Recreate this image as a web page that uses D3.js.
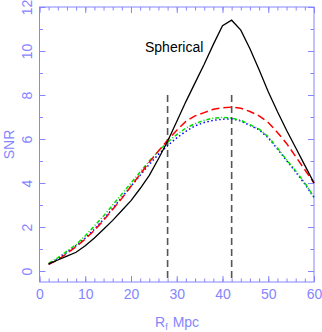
<!DOCTYPE html>
<html>
<head>
<meta charset="utf-8">
<script src="https://cdn.jsdelivr.net/npm/d3@7"></script>
<style>
  body { margin: 0; background: #fff; }
  svg text { font-family: "Liberation Sans", Arial, sans-serif; }
</style>
</head>
<body>
<div id="chart"></div>
<script>
const W = 322, H = 332;
const MARGIN = {top: 7, right: 8, bottom: 50, left: 39.5};
const AXIS_COLOR = '#8585ff';

// smoothing radius R_f in Mpc
const rf = [2, 4, 6, 8, 10, 12, 14, 16, 18, 20, 22, 24, 26, 28, 30,
            32, 34, 36, 38, 40, 42, 44, 46, 48, 50, 52, 54, 56, 58, 60];

const snrSpherical = [0.32, 0.5, 0.68, 0.85, 1.15, 1.5, 1.9, 2.3, 2.75, 3.2, 3.75, 4.35, 5.1, 5.9, 6.8,
                      7.7, 8.55, 9.4, 10.3, 11.15, 11.4, 10.95, 10.1, 9.15, 8.15, 7.25, 6.4, 5.6, 4.8, 4.0];
const snrRed = [0.3, 0.5, 0.8, 1.1, 1.45, 1.85, 2.3, 2.8, 3.3, 3.85, 4.4, 4.95, 5.45, 5.95, 6.4,
                6.8, 7.05, 7.2, 7.35, 7.42, 7.45, 7.4, 7.25, 7.05, 6.75, 6.3, 5.8, 5.2, 4.6, 4.0];
const snrGreen = [0.35, 0.6, 0.9, 1.2, 1.6, 2.05, 2.5, 3.0, 3.5, 4.0, 4.5, 5.0, 5.45, 5.85, 6.2,
                  6.5, 6.7, 6.85, 6.95, 6.98, 6.95, 6.85, 6.65, 6.45, 6.1, 5.6, 5.05, 4.55, 4.0, 3.36];
const snrBlue = [0.3, 0.55, 0.85, 1.15, 1.5, 1.9, 2.35, 2.85, 3.35, 3.85, 4.35, 4.85, 5.3, 5.7, 6.05,
                 6.35, 6.6, 6.75, 6.85, 6.9, 6.92, 6.82, 6.62, 6.42, 6.05, 5.55, 5.02, 4.5, 3.95, 3.35];

const markers = [28, 42];      // vertical dashed lines
const markerTop = 8;
const xMajor = [0, 10, 20, 30, 40, 50, 60];
const yMajor = [0, 2, 4, 6, 8, 10, 12];

const series = [
    {name: 'Spherical', values: snrSpherical, color: '#000000', dash: null, width: 1.3},
    {name: 'red', values: snrRed, color: '#ff0000', dash: '8,4', width: 1.5},
    {name: 'green', values: snrGreen, color: '#00dd00', dash: '4,2,1,2', width: 1.5},
    {name: 'blue', values: snrBlue, color: '#0000ff', dash: '1.5,2.5', width: 1.5}
];

const svg = d3.select('#chart')
    .append('svg')
    .attr('width', W)
    .attr('height', H);

const x = d3.scaleLinear().domain([0, 60]).range([MARGIN.left, W - MARGIN.right]);
const y = d3.scaleLinear().domain([-0.5, 12]).range([H - MARGIN.bottom, MARGIN.top]);

// frame
svg.append('rect')
    .attr('x', x(0)).attr('y', y(12))
    .attr('width', x(60) - x(0)).attr('height', y(-0.5) - y(12))
    .attr('fill', 'none').attr('stroke', AXIS_COLOR).attr('stroke-width', 1);

function styleAxis(g) {
    g.select('.domain').remove();
    g.selectAll('.tick line').attr('stroke', AXIS_COLOR);
    g.selectAll('.tick text').attr('fill', AXIS_COLOR).attr('font-size', 14).attr('font-family', null);
}

// bottom axis
svg.append('g')
    .attr('transform', `translate(0,${y(-0.5)})`)
    .call(d3.axisBottom(x).tickValues(d3.range(0, 61, 2)).tickSize(-3.5).tickFormat(''))
    .call(styleAxis);
svg.append('g')
    .attr('transform', `translate(0,${y(-0.5)})`)
    .call(d3.axisBottom(x).tickValues(xMajor).tickSize(-6).tickPadding(7).tickFormat(d3.format('d')))
    .call(styleAxis);

// top axis
svg.append('g')
    .attr('transform', `translate(0,${y(12)})`)
    .call(d3.axisTop(x).tickValues(d3.range(0, 61, 2)).tickSize(-3.5).tickFormat(''))
    .call(styleAxis);
svg.append('g')
    .attr('transform', `translate(0,${y(12)})`)
    .call(d3.axisTop(x).tickValues(xMajor).tickSize(-6).tickFormat(''))
    .call(styleAxis);

// left axis, labels rotated
svg.append('g')
    .attr('transform', `translate(${x(0)},0)`)
    .call(d3.axisLeft(y).tickValues(d3.range(0, 13, 1)).tickSize(-3.5).tickFormat(''))
    .call(styleAxis);
svg.append('g')
    .attr('transform', `translate(${x(0)},0)`)
    .call(d3.axisLeft(y).tickValues(yMajor).tickSize(-6).tickFormat(d3.format('d')))
    .call(styleAxis)
    .selectAll('.tick text')
    .attr('x', 0).attr('dy', 0)
    .attr('text-anchor', 'middle')
    .attr('transform', `translate(${31.5 - x(0)},0) rotate(-90)`);

// right axis
svg.append('g')
    .attr('transform', `translate(${x(60)},0)`)
    .call(d3.axisRight(y).tickValues(d3.range(0, 13, 1)).tickSize(-3.5).tickFormat(''))
    .call(styleAxis);
svg.append('g')
    .attr('transform', `translate(${x(60)},0)`)
    .call(d3.axisRight(y).tickValues(yMajor).tickSize(-6).tickFormat(''))
    .call(styleAxis);

// axis titles
svg.append('text')
    .attr('transform', `translate(13.5,${(y(12) + y(-0.5)) / 2}) rotate(-90)`)
    .attr('text-anchor', 'middle')
    .attr('fill', AXIS_COLOR)
    .attr('font-size', 14)
    .text('SNR');

const xTitle = svg.append('text')
    .attr('x', 155)
    .attr('y', 326.5)
    .attr('fill', AXIS_COLOR)
    .attr('font-size', 14);
xTitle.append('tspan').text('R');
xTitle.append('tspan').attr('font-size', 9).attr('dy', 3).text('f');
xTitle.append('tspan').attr('dy', -3).attr('dx', 5).text('Mpc');

// vertical dashed markers
svg.append('g')
    .selectAll('line')
    .data(markers)
    .enter().append('line')
    .attr('x1', d => x(d)).attr('x2', d => x(d))
    .attr('y1', y(markerTop)).attr('y2', y(-0.5))
    .attr('stroke', '#555')
    .attr('stroke-width', 1.6)
    .attr('stroke-dasharray', '7,4');

// curves
const line = d3.line()
    .x((d, i) => x(rf[i]))
    .y(d => y(d));

svg.append('g')
    .selectAll('path')
    .data(series.slice().reverse())
    .enter().append('path')
    .attr('d', d => line(d.values))
    .attr('fill', 'none')
    .attr('stroke', d => d.color)
    .attr('stroke-width', d => d.width)
    .attr('stroke-dasharray', d => d.dash);

svg.append('text')
    .attr('x', 145)
    .attr('y', 52)
    .attr('fill', '#000')
    .attr('font-size', 14)
    .text('Spherical');
</script>
</body>
</html>
